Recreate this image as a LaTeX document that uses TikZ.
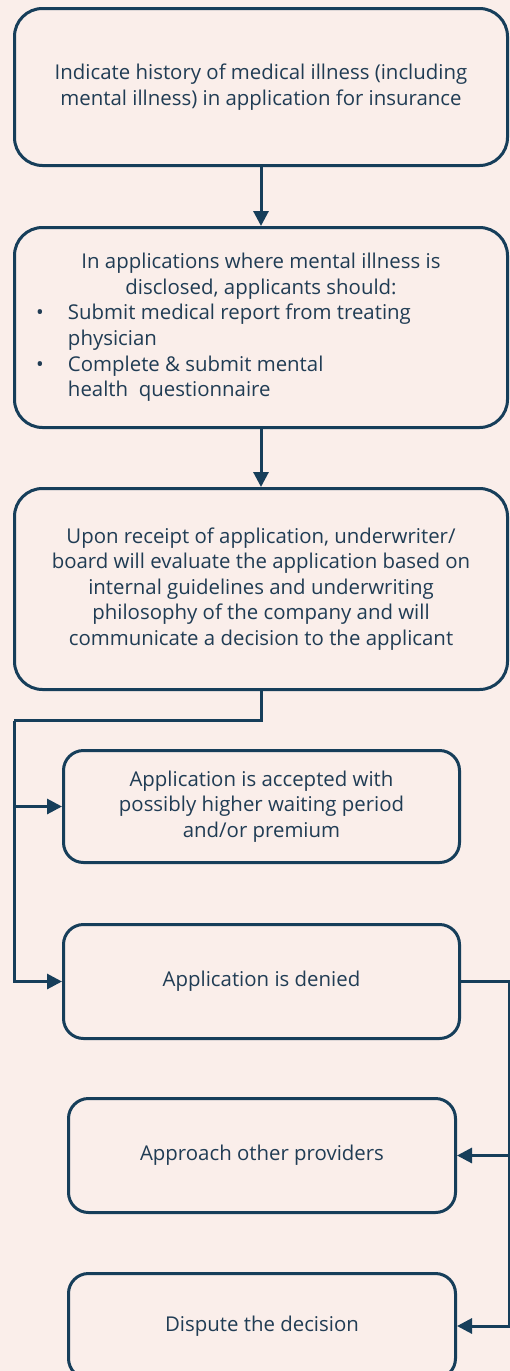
\documentclass[tikz,border=0pt]{standalone}
\usepackage{fontspec}
\setmainfont{Open Sans}
\usetikzlibrary{arrows.meta,positioning}
\definecolor{bgpink}{RGB}{250,238,234}
\definecolor{navy}{RGB}{22,62,90}
\definecolor{inkblue}{RGB}{32,60,84}
\tikzset{
  flowbox/.style={draw=navy, line width=3pt, rounded corners=28pt, text=inkblue,
    align=center, inner sep=0pt, font=\fontsize{20.4}{25.6}\selectfont},
  smallbox/.style={flowbox, rounded corners=20pt},
  flowline/.style={draw=navy, line width=3pt},
  flowarrow/.style={flowline, -{Triangle[length=15pt,width=15pt]}}
}
\begin{document}
\begin{tikzpicture}[x=1pt,y=-1pt]
  \useasboundingbox (0,0) rectangle (510,1371);
  \clip (0,0) rectangle (510,1371);
  \fill[bgpink] (0,0) rectangle (510,1371);
  % main steps
  \node[flowbox, minimum width=493pt, minimum height=157pt] (history) at (261,87)
    {Indicate history of medical illness (including\\ mental illness) in application for insurance};
  \node[flowbox, minimum width=493pt, minimum height=200pt] (disclose) at (261,327.5)
    {\begin{tabular}{@{}p{35pt}@{}p{421pt}@{}}
      \multicolumn{2}{@{}c@{}}{In applications where mental illness is}\\
      \multicolumn{2}{@{}c@{}}{disclosed, applicants should:}\\
      \hspace*{3pt}\textbullet & Submit medical report from treating\\
       & physician\\
      \hspace*{3pt}\textbullet & Complete \& submit mental\\
       & health\ \ questionnaire
    \end{tabular}};
  \node[flowbox, minimum width=493pt, minimum height=201pt] (evaluate) at (261,589)
    {Upon receipt of application, underwriter/\\ board will evaluate the application based on\\
     internal guidelines and underwriting\\ philosophy of the company and will\\
     communicate a decision to the applicant};
  % outcomes
  \node[smallbox, minimum width=396pt, minimum height=112pt] (accepted) at (261.5,806.5)
    {Application is accepted with\\ possibly higher waiting period\\ and/or premium};
  \node[smallbox, minimum width=396pt, minimum height=114pt] (denied) at (261.5,981.5)
    {Application is denied};
  \node[smallbox, minimum width=387pt, minimum height=114pt] (others) at (262,1155.5)
    {Approach other providers};
  \node[smallbox, minimum width=387pt, minimum height=105pt] (dispute) at (262,1326)
    {Dispute the decision};
  % connectors
  \draw[flowarrow] (history) -- (disclose);
  \draw[flowarrow] (disclose) -- (evaluate);
  \coordinate (split) at (14,720.5);
  \coordinate (rail) at (509,981.5);
  \draw[flowline] (evaluate.south) |- (split);
  \draw[flowarrow] (split) |- (denied.west);
  \draw[flowarrow] (split |- accepted.west) -- (accepted.west);
  \draw[flowarrow] (denied.east) -- (rail) |- (dispute.east);
  \draw[flowarrow] (rail |- others.east) -- (others.east);
\end{tikzpicture}
\end{document}
